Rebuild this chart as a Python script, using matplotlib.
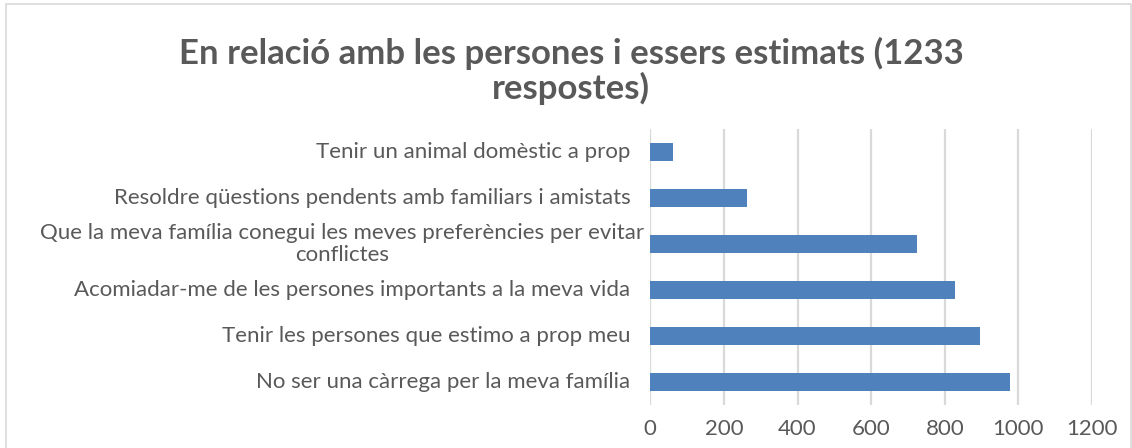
import matplotlib.pyplot as plt
from matplotlib.patches import Rectangle

plt.rcParams["font.family"] = ["Lato", "DejaVu Sans"]

title = "En relació amb les persones i essers estimats (1233\nrespostes)"
categories = [
    "No ser una càrrega per la meva família",
    "Tenir les persones que estimo a prop meu",
    "Acomiadar-me de les persones importants a la meva vida",
    "Que la meva família conegui les meves preferències per evitar\nconflictes",
    "Resoldre qüestions pendents amb familiars i amistats",
    "Tenir un animal domèstic a prop",
]
values = [977, 895, 828, 725, 262, 62]
xticks = [0, 200, 400, 600, 800, 1000, 1200]

bar_color = "#4F81BD"
text_color = "#595959"
grid_color = "#D9D9D9"

fig = plt.figure(figsize=(11.32, 4.48), dpi=100)
ax = fig.add_axes([650.3 / 1132, 1 - 405 / 448, (1092 - 650.3) / 1132, (405 - 129) / 448])

ypos = list(range(len(categories)))
ax.barh(ypos, values, height=0.37, color=bar_color, zorder=3)
ax.set_xlim(0, 1200)
ax.set_ylim(-0.5, len(categories) - 0.5)
ax.set_xticks(xticks)
ax.set_xticklabels([str(t) for t in xticks], fontsize=16, color=text_color)
ax.tick_params(axis="x", length=0, pad=10)
ax.set_yticks([])
ax.grid(axis="x", color=grid_color, linewidth=1.6, zorder=0)
for s in ax.spines.values():
    s.set_visible(False)

# category labels (the wrapped one sits closer to the axis, like in Excel)
for y, lab in zip(ypos, categories):
    off = -0.014 if "\n" in lab else -0.045
    ax.text(off, y, lab, transform=ax.get_yaxis_transform(), ha="right", va="center",
            multialignment="center", fontsize=16, color=text_color, linespacing=1.15)

fig.text(571 / 1132, 1 - 71 / 448, title, ha="center", va="center", fontsize=25,
         fontweight="bold", color=text_color, linespacing=1.05)

# light frame around the chart
fig.patches.append(Rectangle((6 / 1132, -0.05), 1124.5 / 1132, 1 - 4 / 448 + 0.05,
                             transform=fig.transFigure, fill=False, edgecolor=grid_color,
                             linewidth=1.2))

fig.savefig("out.png", dpi=100)
